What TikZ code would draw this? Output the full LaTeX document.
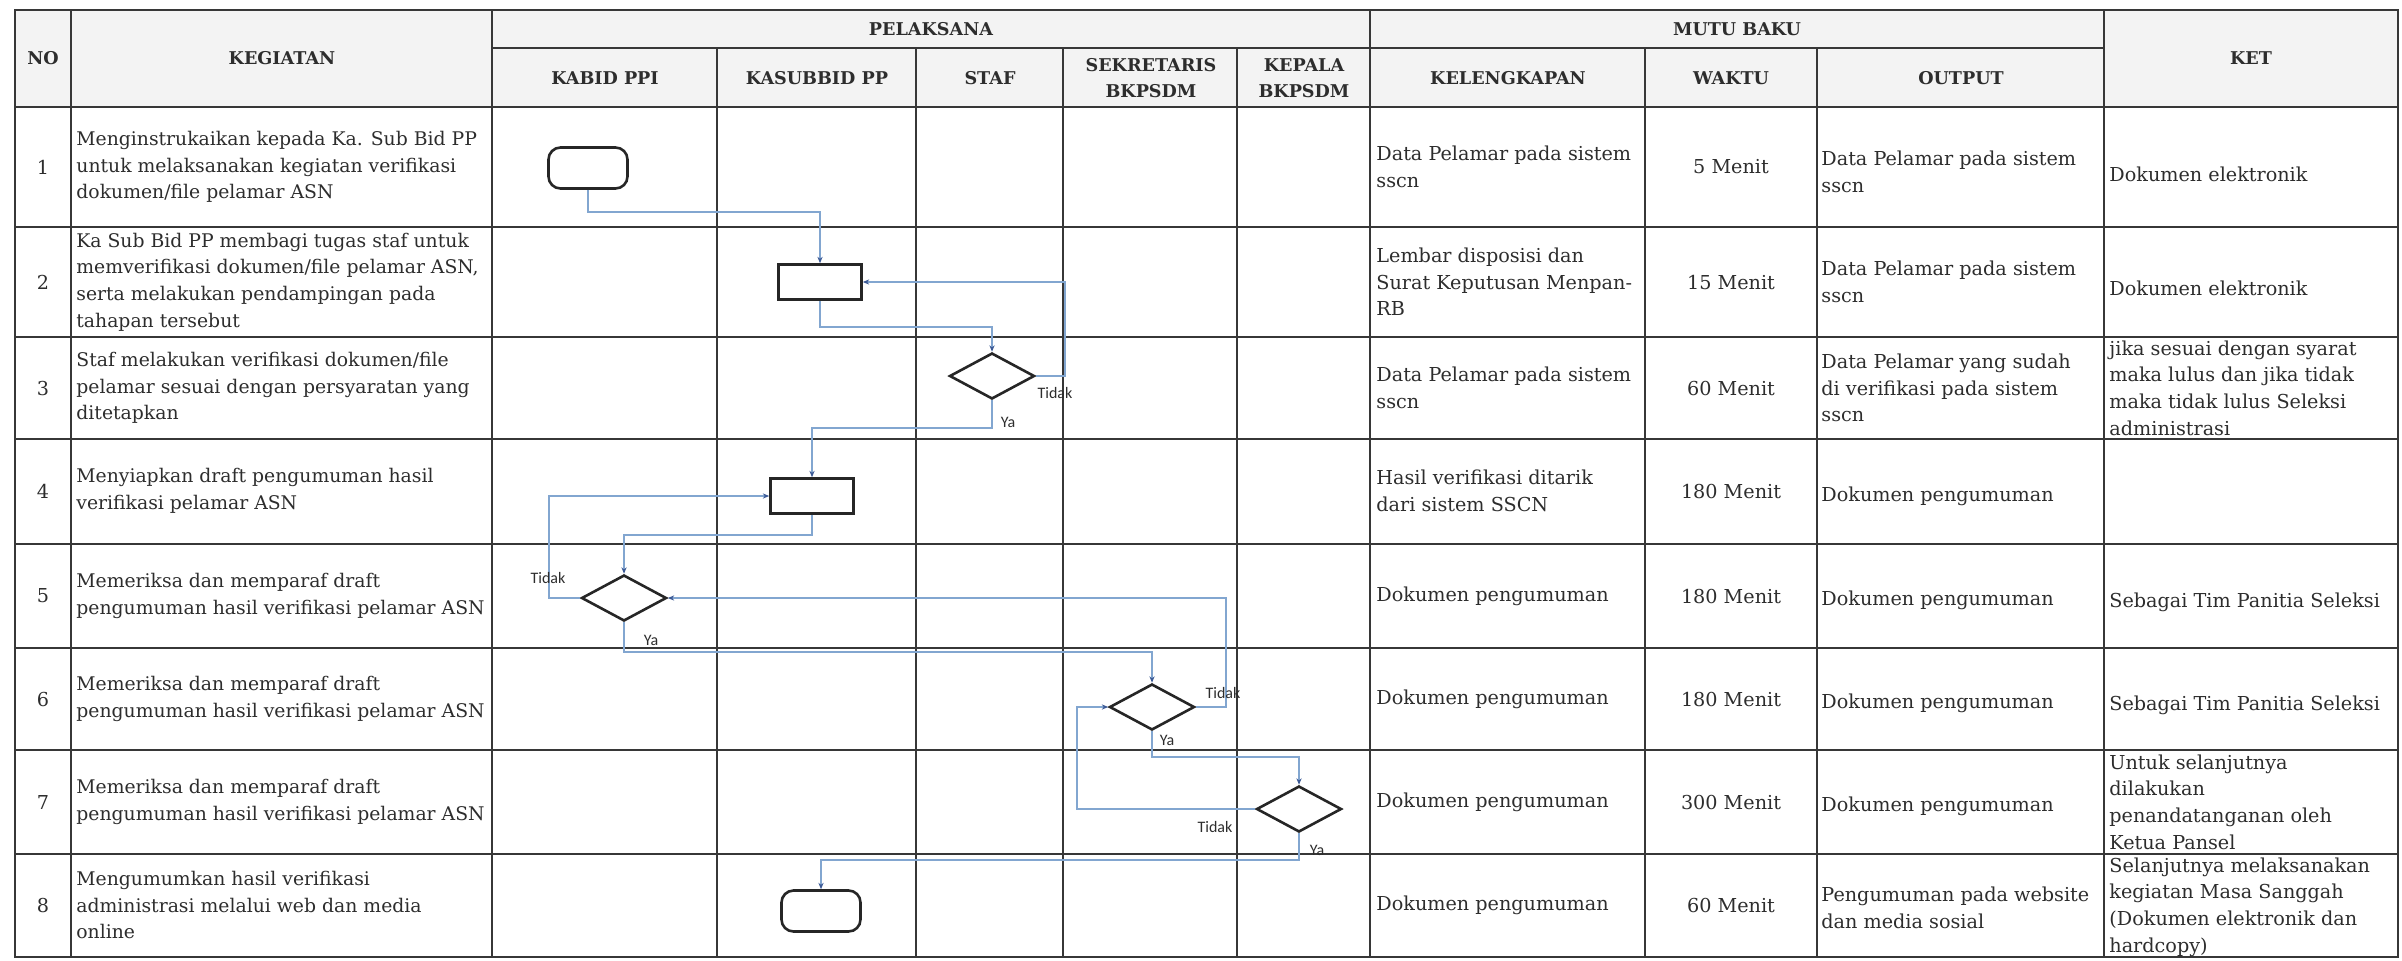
\documentclass[tikz,border=0pt]{standalone}
\usepackage{fontspec}
\setmainfont{DejaVu Serif}
\newfontfamily\lblfont{Carlito}
\usetikzlibrary{shapes.geometric,arrows.meta}
\definecolor{ink}{RGB}{45,45,45}
\definecolor{gridc}{RGB}{55,55,55}
\definecolor{flowc}{RGB}{130,166,208}
\definecolor{tipc}{RGB}{60,90,150}
\definecolor{hdr}{RGB}{243,243,243}
\tikzset{
 body/.style={font=\fontsize{9.6}{13.3}\selectfont, text=ink, inner sep=0pt, align=left, anchor=west},
 keg/.style={font=\fontsize{9.4}{13.3}\selectfont, text=ink, inner sep=0pt, align=left, anchor=west},
 ctr/.style={font=\fontsize{9.6}{13.3}\selectfont, text=ink, inner sep=0pt, align=center},
 hd/.style={font=\bfseries\fontsize{8.8}{13}\selectfont, text=ink, inner sep=0pt, align=center},
 gridline/.style={draw=gridc, line width=0.9pt},
 term/.style={draw=black!85, line width=1.3pt, rounded corners=6pt, minimum width=39.5pt, minimum height=20.5pt, fill=white, inner sep=0pt},
 proc/.style={draw=black!85, line width=1.3pt, minimum width=41.5pt, minimum height=17.5pt, fill=white, inner sep=0pt},
 dec/.style={diamond, draw=black!85, line width=1.3pt, minimum width=42.5pt, minimum height=23pt, fill=white, inner sep=0pt},
 flow/.style={draw=flowc, line width=0.6pt, -{Stealth[length=3.2pt,width=2.6pt,color=tipc]}},
 lbl/.style={font=\lblfont\fontsize{8}{9}\selectfont, text=ink, inner sep=0pt}
}
\begin{document}
\begin{tikzpicture}[x=0.5pt,y=-0.5pt]
\useasboundingbox (0,0) rectangle (2402,960);
% header background
\fill[hdr] (15,10) rectangle (2398,107);
% grid
\draw[gridline] (15,10) rectangle (2398,957);
\foreach \yy in {107,227,337,439,544,648,750,854} \draw[gridline] (15,\yy) -- (2398,\yy);
\draw[gridline] (492,48) -- (2104,48);
\foreach \xx in {71,492,1370,2104} \draw[gridline] (\xx,10) -- (\xx,957);
\foreach \xx in {717,916,1063,1237,1645,1817} \draw[gridline] (\xx,48) -- (\xx,957);
% headers
\node[hd] (hno) at (43,58) {NO};
\node[hd] (hkeg) at (282,58) {KEGIATAN};
\node[hd] (hpel) at (931,29) {PELAKSANA};
\node[hd] (hkab) at (605,78) {KABID PPI};
\node[hd] (hksb) at (817,78) {KASUBBID PP};
\node[hd] (hstf) at (990,78) {STAF};
\node[hd] (hsek) at (1151,78) {SEKRETARIS\\BKPSDM};
\node[hd] (hkep) at (1304,78) {KEPALA\\BKPSDM};
\node[hd] (hmut) at (1737,29) {MUTU BAKU};
\node[hd] (hkel) at (1508,78) {KELENGKAPAN};
\node[hd] (hwak) at (1731,78) {WAKTU};
\node[hd] (hout) at (1961,78) {OUTPUT};
\node[hd] (hket) at (2251,58) {KET};
% numbers
\node[ctr] (n1) at (43,167) {1};
\node[ctr] (n2) at (43,282) {2};
\node[ctr] (n3) at (43,388) {3};
\node[ctr] (n4) at (43,491) {4};
\node[ctr] (n5) at (43,596) {5};
\node[ctr] (n6) at (43,699) {6};
\node[ctr] (n7) at (43,802) {7};
\node[ctr] (n8) at (43,905) {8};
% kegiatan
\node[keg] (k1) at (76,167) {Menginstrukaikan kepada Ka. Sub Bid PP\\untuk melaksanakan kegiatan verifikasi\\dokumen/file pelamar ASN};
\node[keg] (k2) at (76,282) {Ka Sub Bid PP membagi tugas staf untuk\\memverifikasi dokumen/file pelamar ASN,\\serta melakukan pendampingan pada\\tahapan tersebut};
\node[keg] (k3) at (76,388) {Staf melakukan verifikasi dokumen/file\\pelamar sesuai dengan persyaratan yang\\ditetapkan};
\node[keg] (k4) at (76,491) {Menyiapkan draft pengumuman hasil\\verifikasi pelamar ASN};
\node[keg] (k5) at (76,596) {Memeriksa dan memparaf draft\\pengumuman hasil verifikasi pelamar ASN};
\node[keg] (k6) at (76,699) {Memeriksa dan memparaf draft\\pengumuman hasil verifikasi pelamar ASN};
\node[keg] (k7) at (76,802) {Memeriksa dan memparaf draft\\pengumuman hasil verifikasi pelamar ASN};
\node[keg] (k8) at (76,905) {Mengumumkan hasil verifikasi\\administrasi melalui web dan media\\online};
% kelengkapan
\node[body] (l1) at (1376,167) {Data Pelamar pada sistem\\sscn};
\node[body] (l2) at (1376,282) {Lembar disposisi dan\\Surat Keputusan Menpan-\\RB};
\node[body] (l3) at (1376,388) {Data Pelamar pada sistem\\sscn};
\node[body] (l4) at (1376,491) {Hasil verifikasi ditarik\\dari sistem SSCN};
\node[body] (l5) at (1376,596) {Dokumen pengumuman};
\node[body] (l6) at (1376,699) {Dokumen pengumuman};
\node[body] (l7) at (1376,802) {Dokumen pengumuman};
\node[body] (l8) at (1376,905) {Dokumen pengumuman};
% waktu
\node[ctr] (w1) at (1731,167) {5 Menit};
\node[ctr] (w2) at (1731,282) {15 Menit};
\node[ctr] (w3) at (1731,388) {60 Menit};
\node[ctr] (w4) at (1731,491) {180 Menit};
\node[ctr] (w5) at (1731,596) {180 Menit};
\node[ctr] (w6) at (1731,699) {180 Menit};
\node[ctr] (w7) at (1731,802) {300 Menit};
\node[ctr] (w8) at (1731,905) {60 Menit};
% output
\node[body] (o1) at (1821,172) {Data Pelamar pada sistem\\sscn};
\node[body] (o2) at (1821,282) {Data Pelamar pada sistem\\sscn};
\node[body] (o3) at (1821,388) {Data Pelamar yang sudah\\di verifikasi pada sistem\\sscn};
\node[body] (o4) at (1821,496) {Dokumen pengumuman};
\node[body] (o5) at (1821,600) {Dokumen pengumuman};
\node[body] (o6) at (1821,703) {Dokumen pengumuman};
\node[body] (o7) at (1821,806) {Dokumen pengumuman};
\node[body] (o8) at (1821,908) {Pengumuman pada website\\dan media sosial};
% ket
\node[body] (e1) at (2109,174) {Dokumen elektronik};
\node[body] (e2) at (2109,288) {Dokumen elektronik};
\node[body] (e3) at (2109,388) {jika sesuai dengan syarat\\maka lulus dan jika tidak\\maka tidak lulus Seleksi\\administrasi};
\node[body] (e5) at (2109,602) {Sebagai Tim Panitia Seleksi};
\node[body] (e6) at (2109,705) {Sebagai Tim Panitia Seleksi};
\node[body] (e7) at (2109,802) {Untuk selanjutnya\\dilakukan\\penandatanganan oleh\\Ketua Pansel};
\node[body] (e8) at (2109,907) {Selanjutnya melaksanakan\\kegiatan Masa Sanggah\\(Dokumen elektronik dan\\hardcopy)};
% flow shapes
\node[term] (t1) at (588,168) {};
\node[proc] (r2) at (820,282) {};
\node[dec] (d3) at (992,376) {};
\node[proc] (r4) at (812,496) {};
\node[dec] (d5) at (624,598) {};
\node[dec] (d6) at (1152,707) {};
\node[dec] (d7) at (1299,809) {};
\node[term] (t8) at (821,911) {};
% routing helpers
\coordinate (j1) at (0,212);
\coordinate (j2) at (0,327);
\coordinate (k3) at (1065,0);
\coordinate (j4) at (0,428);
\coordinate (j5) at (0,535);
\coordinate (k6) at (549,0);
\coordinate (j7) at (0,652);
\coordinate (k8) at (1226,0);
\coordinate (j9) at (0,757);
\coordinate (k10) at (1077,0);
\coordinate (j11) at (0,860);
% connectors
\draw[flow] (t1.south) -- (t1.south |- j1) -| (r2.north);
\draw[flow] (r2.south) -- (r2.south |- j2) -| (d3.north);
\draw[flow] (d3.east) -- (d3.east -| k3) |- (r2.east);
\draw[flow] (d3.south) -- (d3.south |- j4) -| (r4.north);
\draw[flow] (r4.south) -- (r4.south |- j5) -| (d5.north);
\draw[flow] (d5.west) -- (d5.west -| k6) |- (r4.west);
\draw[flow] (d5.south) -- (d5.south |- j7) -| (d6.north);
\draw[flow] (d6.east) -- (d6.east -| k8) |- (d5.east);
\draw[flow] (d6.south) -- (d6.south |- j9) -| (d7.north);
\draw[flow] (d7.west) -- (d7.west -| k10) |- (d6.west);
\draw[flow] (d7.south) -- (d7.south |- j11) -| (t8.north);
% labels
\node[lbl] (a3t) at (1055,393) {Tidak};
\node[lbl] (a3y) at (1008,422) {Ya};
\node[lbl] (a5t) at (548,578) {Tidak};
\node[lbl] (a5y) at (651,640) {Ya};
\node[lbl] (a6t) at (1223,693) {Tidak};
\node[lbl] (a6y) at (1167,740) {Ya};
\node[lbl] (a7t) at (1215,827) {Tidak};
\node[lbl] (a7y) at (1317,850) {Ya};
\end{tikzpicture}
\end{document}
